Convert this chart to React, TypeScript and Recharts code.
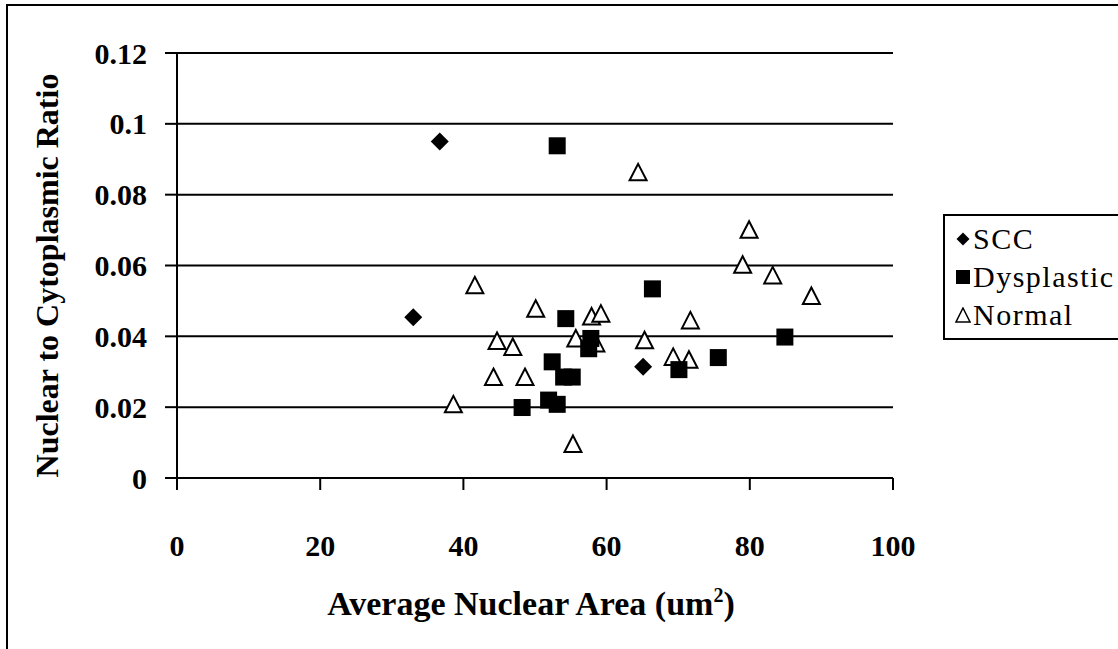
import React from 'react';
import { ScatterChart, Scatter, XAxis, YAxis, CartesianGrid, Legend, Label } from 'recharts';

const FONT = 'Liberation Serif';

// Series names
const seriesNames = ['SCC', 'Dysplastic', 'Normal'];

// SCC
const sccX = [36.7, 33.0, 65.1];
const sccY = [0.095, 0.0454, 0.0314];

// Dysplastic
const dysX = [53.1, 66.4, 54.3, 57.8, 57.5, 52.4, 54.0, 55.2, 51.9, 53.1, 48.2, 70.1, 75.6, 84.9];
const dysY = [0.0938, 0.0534, 0.045, 0.0394, 0.0365, 0.0328, 0.0285, 0.0285, 0.022, 0.0208, 0.0199, 0.0306, 0.034, 0.0398];

// Normal
const normX = [41.6, 50.1, 44.7, 46.9, 44.2, 48.6, 38.6, 55.3, 55.7, 57.9, 59.2, 58.5, 65.3, 64.4, 71.7, 69.3, 71.5, 79.9, 79.0, 83.2, 88.6];
const normY = [0.0544, 0.0478, 0.0387, 0.037, 0.0285, 0.0285, 0.0208, 0.0096, 0.0394, 0.0456, 0.0464, 0.038, 0.0389, 0.0863, 0.0445, 0.0342, 0.0334, 0.0701, 0.0602, 0.0572, 0.0514];

// Ticks
const xTicks = [0, 20, 40, 60, 80, 100];
const yTicks = [0, 0.02, 0.04, 0.06, 0.08, 0.1, 0.12];
const yTickLabels = ['0', '0.02', '0.04', '0.06', '0.08', '0.1', '0.12'];

const xTitle = 'Average Nuclear Area (um';
const yTitle = 'Nuclear to Cytoplasmic Ratio';

const toPoints = (xs: number[], ys: number[]) => xs.map((x, i) => ({ x, y: ys[i] }));

const sccData = toPoints(sccX, sccY);
const dysData = toPoints(dysX, dysY);
const normData = toPoints(normX, normY);

const Diamond = (props: any) => {
  const { cx, cy } = props;
  const r = 9;
  return <path d={`M${cx},${cy - r}L${cx + r},${cy}L${cx},${cy + r}L${cx - r},${cy}Z`} fill="#000" />;
};

const Square = (props: any) => {
  const { cx, cy } = props;
  return <rect x={cx - 8.5} y={cy - 8.5} width={17} height={17} fill="#000" />;
};

const Triangle = (props: any) => {
  const { cx, cy } = props;
  return (
    <path
      d={`M${cx},${cy - 8.5}L${cx + 8.5},${cy + 8}L${cx - 8.5},${cy + 8}Z`}
      fill="#fff"
      stroke="#000"
      strokeWidth={2}
    />
  );
};

const legendIcon = (name: string) => {
  if (name === 'SCC') return <path d="M8,1.5L14.5,8L8,14.5L1.5,8Z" fill="#000" />;
  if (name === 'Dysplastic') return <rect x={1} y={1} width={14} height={14} fill="#000" />;
  return <path d="M8,1L15,15L1,15Z" fill="#fff" stroke="#000" strokeWidth={1.5} />;
};

const renderLegend = () => (
  <div
    style={{
      border: '2px solid #000',
      background: '#fff',
      padding: '4px 0 4px 10px',
      fontFamily: FONT,
      fontSize: 30,
      lineHeight: '38px',
      color: '#000',
      letterSpacing: 1.5,
    }}
  >
    {seriesNames.map((n) => (
      <div key={n} style={{ display: 'flex', alignItems: 'center' }}>
        <svg width={16} height={16} style={{ marginRight: 2 }}>
          {legendIcon(n)}
        </svg>
        <span>{n}</span>
      </div>
    ))}
  </div>
);

const XTitle = (props: any) => {
  const { viewBox } = props;
  const cx = viewBox.x + viewBox.width / 2 - 4;
  const y = 615;
  return (
    <text x={cx} y={y} textAnchor="middle" fontFamily={FONT} fontWeight="bold" fontSize={34} fill="#000">
      <tspan>{xTitle}</tspan>
      <tspan dy={-13} fontSize={20}>2</tspan>
      <tspan dy={13}>)</tspan>
    </text>
  );
};

const YTitle = (props: any) => {
  const { viewBox } = props;
  const cy = viewBox.y + viewBox.height / 2 + 10;
  const x = 47;
  return (
    <text
      x={x}
      y={cy}
      transform={`rotate(-90 ${x} ${cy})`}
      textAnchor="middle"
      dominantBaseline="central"
      fontFamily={FONT}
      fontWeight="bold"
      fontSize={32}
      fill="#000"
    >
      {yTitle}
    </text>
  );
};

export default function App() {
  return (
    <div style={{ position: 'fixed', left: 0, top: 0, width: 1118, height: 649, background: '#fff', overflow: 'hidden' }}>
      <div
        style={{
          position: 'absolute',
          left: 6,
          top: 4,
          width: 1300,
          height: 800,
          borderLeft: '2px solid #000',
          borderTop: '2px solid #000',
        }}
      />
      <div style={{ position: 'absolute', left: 0, top: 0 }}>
        <ScatterChart width={1118} height={649} margin={{ top: 53, right: 225, bottom: 0, left: 0 }}>
          <CartesianGrid horizontal vertical={false} stroke="#000" strokeWidth={2} />
          <XAxis
            type="number"
            dataKey="x"
            domain={[0, 100]}
            ticks={xTicks}
            height={171}
            tickSize={12}
            tickMargin={45}
            axisLine={{ stroke: '#000', strokeWidth: 2 }}
            tickLine={{ stroke: '#000', strokeWidth: 2 }}
            tick={{ fill: '#000', fontFamily: FONT, fontWeight: 'bold', fontSize: 30 }}
            interval={0}
          >
            <Label content={<XTitle />} />
          </XAxis>
          <YAxis
            type="number"
            dataKey="y"
            domain={[0, 0.12]}
            ticks={yTicks}
            width={177}
            tickSize={12}
            tickMargin={18}
            tickFormatter={(v: number) => yTickLabels[yTicks.indexOf(v)] ?? String(v)}
            axisLine={{ stroke: '#000', strokeWidth: 2 }}
            tickLine={{ stroke: '#000', strokeWidth: 2 }}
            tick={{ fill: '#000', fontFamily: FONT, fontWeight: 'bold', fontSize: 30 }}
            interval={0}
          >
            <Label content={<YTitle />} />
          </YAxis>
          <Legend
            layout="vertical"
            align="center"
            verticalAlign="middle"
            content={renderLegend}
            wrapperStyle={{ position: 'absolute', left: 943, top: 214, width: 200 }}
          />
          <Scatter name="Normal" data={normData} shape={<Triangle />} isAnimationActive={false} />
          <Scatter name="Dysplastic" data={dysData} shape={<Square />} isAnimationActive={false} />
          <Scatter name="SCC" data={sccData} shape={<Diamond />} isAnimationActive={false} />
        </ScatterChart>
      </div>
    </div>
  );
}
